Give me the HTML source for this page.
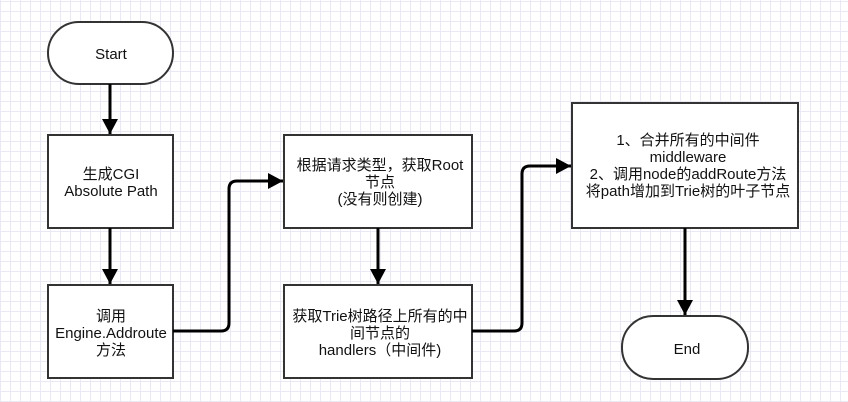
<!DOCTYPE html>
<html><head><meta charset="utf-8"><style>
body{margin:0;width:848px;height:402px;overflow:hidden;background:#fff;
background-image:linear-gradient(#e9e9f5 1px,transparent 1px),linear-gradient(90deg,#e9e9f5 1px,transparent 1px);
background-size:10px 10px;background-position:0 1px;}
svg{position:absolute;left:0;top:0}
text{font-family:"Liberation Sans","Noto Sans CJK SC",sans-serif;font-size:15px;fill:#111;text-anchor:middle}
</style></head><body>
<svg width="848" height="402" viewBox="0 0 848 402">
<defs>
<marker id="b" markerWidth="16" markerHeight="16" refX="15" refY="8" orient="auto" markerUnits="userSpaceOnUse"><path d="M0,0 L15,8 L0,16 z" fill="#000"/></marker></defs>
<g fill="#fff" stroke="#333" stroke-width="2">
<rect x="48" y="22" width="125" height="62" rx="31"/>
<rect x="48" y="135" width="125" height="93"/>
<rect x="48" y="285" width="125" height="93"/>
<rect x="284" y="135" width="188" height="93"/>
<rect x="284" y="285" width="188" height="93"/>
<rect x="572" y="103" width="226" height="125"/>
<rect x="622" y="316" width="126" height="63" rx="31"/>
</g>
<g fill="none" stroke="#000" stroke-width="3">
<path d="M110,84 V134" marker-end="url(#b)"/>
<path d="M110,228 V284" marker-end="url(#b)"/>
<path d="M173,331 H221 Q229,331 229,323 V189 Q229,181 237,181 H283" marker-end="url(#b)"/>
<path d="M378,228 V284" marker-end="url(#b)"/>
<path d="M472,331 H514 Q522,331 522,323 V174 Q522,166 530,166 H571" marker-end="url(#b)"/>
<path d="M685,228 V315" marker-end="url(#b)"/>
</g>
<text x="111" y="59">Start</text>
<text x="111" y="179">生成CGI</text>
<text x="111" y="196">Absolute Path</text>
<text x="111" y="321">调用</text>
<text x="111" y="338">Engine.Addroute</text>
<text x="111" y="355">方法</text>
<text x="380" y="170">根据请求类型，获取Root</text>
<text x="380" y="187">节点</text>
<text x="380" y="204">(没有则创建)</text>
<text x="380" y="321">获取Trie树路径上所有的中</text>
<text x="380" y="338">间节点的</text>
<text x="380" y="355">handlers（中间件)</text>
<text x="688" y="145">1、合并所有的中间件</text>
<text x="688" y="162">middleware</text>
<text x="688" y="179">2、调用node的addRoute方法</text>
<text x="688" y="196">将path增加到Trie树的叶子节点</text>
<text x="687" y="354">End</text>
</svg>
</body></html>
